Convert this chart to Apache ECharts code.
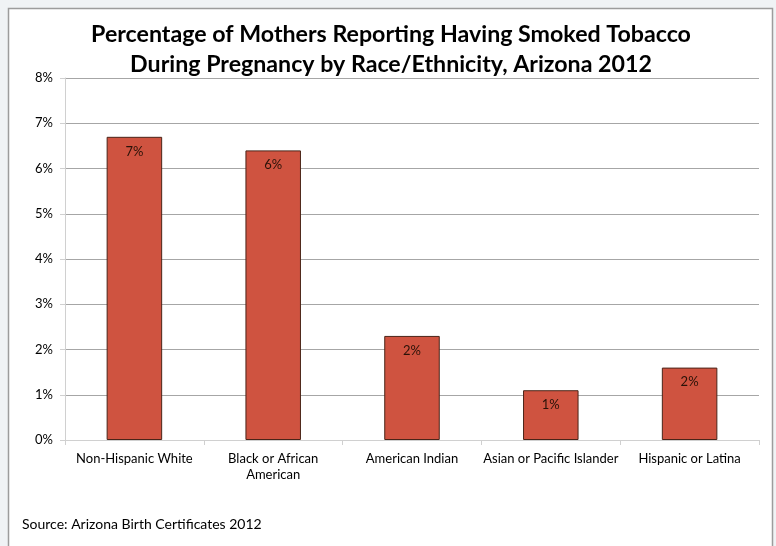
<!DOCTYPE html>
<html>
<head>
<meta charset="utf-8">
<script src="https://cdn.jsdelivr.net/npm/echarts@6/dist/echarts.min.js"></script>
<style>
  html, body { margin: 0; padding: 0; background: #F0F3F5; }
  #chart { width: 776px; height: 546px; }
</style>
</head>
<body>
<div id="chart"></div>
<script>
// Smoking during pregnancy, Arizona 2012 (percent of mothers)
const categories = [
  'Non-Hispanic White',
  'Black or African\nAmerican',
  'American Indian',
  'Asian or Pacific Islander',
  'Hispanic or Latina'
];
const smokedPct = [6.7, 6.4, 2.3, 1.1, 1.6];
const yTicks = [0, 1, 2, 3, 4, 5, 6, 7, 8];

const titleLines = [
  'Percentage of Mothers Reporting Having Smoked Tobacco',
  'During Pregnancy by Race/Ethnicity, Arizona 2012'
];
const sourceNote = 'Source: Arizona Birth Certificates 2012';

const FONT = 'Lato, "Open Sans", "Liberation Sans", sans-serif';

const chart = echarts.init(document.getElementById('chart'), null, { renderer: 'canvas' });

// each title line is centred on its own
const titleGraphics = titleLines.map((line, i) => ({
  type: 'text',
  x: 391,
  y: 23 + i * 30,
  style: {
    text: line,
    font: 'bold 23.2px ' + FONT,
    fill: '#000000',
    textAlign: 'center',
    textVerticalAlign: 'top'
  }
}));

chart.setOption({
  backgroundColor: '#F0F3F5',
  animation: false,
  graphic: [
    {
      type: 'rect',
      z: -10,
      shape: { x: 8.5, y: 8.5, width: 764, height: 560 },
      style: { fill: '#ffffff', stroke: '#9c9c9c', lineWidth: 1.5 }
    },
    ...titleGraphics,
    {
      type: 'text',
      left: 22,
      top: 517,
      style: {
        text: sourceNote,
        font: '14px ' + FONT,
        fill: '#000000'
      }
    }
  ],
  grid: { left: 65, right: 17, top: 78, bottom: 106 },
  xAxis: {
    type: 'category',
    data: categories,
    axisLine: { lineStyle: { color: '#d0d0d0', width: 1 } },
    axisTick: { show: true, length: 5, lineStyle: { color: '#d0d0d0' } },
    axisLabel: {
      color: '#000000',
      fontSize: 13,
      fontFamily: FONT,
      margin: 11,
      lineHeight: 16,
      interval: 0
    }
  },
  yAxis: {
    type: 'value',
    min: 0,
    max: 8,
    interval: 1,
    axisLine: { show: true, lineStyle: { color: '#d0d0d0', width: 1 } },
    axisTick: { show: true, length: 5, lineStyle: { color: '#d0d0d0' } },
    axisLabel: {
      color: '#000000',
      fontSize: 13,
      fontFamily: FONT,
      margin: 12,
      formatter: v => (yTicks.includes(v) ? v + '%' : '')
    },
    splitLine: { lineStyle: { color: '#a6a6a6', width: 1 } }
  },
  series: [{
    type: 'bar',
    data: smokedPct,
    barWidth: '40%',
    itemStyle: {
      color: '#CF5340',
      borderColor: '#4a2418',
      borderWidth: 1
    },
    label: {
      show: true,
      position: 'insideTop',
      distance: 8,
      color: '#2a1208',
      fontSize: 13,
      fontFamily: FONT,
      formatter: p => Math.round(p.value) + '%'
    }
  }]
});
</script>
</body>
</html>
